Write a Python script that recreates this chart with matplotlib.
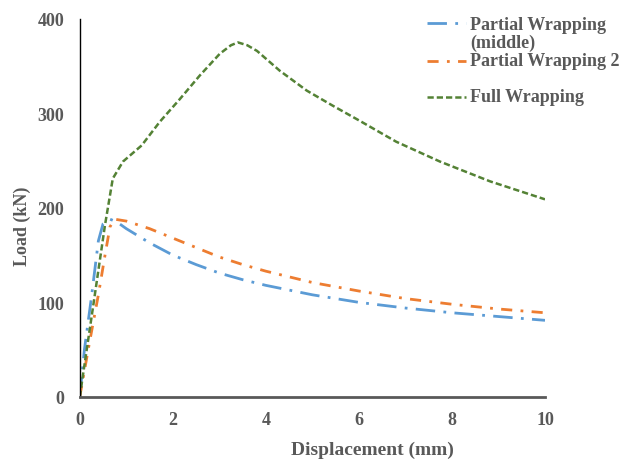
import matplotlib
matplotlib.use("Agg")
import matplotlib.pyplot as plt
from matplotlib.lines import Line2D

# Data
x_blue = [0, 0.1, 0.25, 0.4, 0.5, 0.65, 0.8, 1.0, 1.5, 2, 2.5, 3, 3.5, 4, 5, 6, 7, 8, 9, 10]
y_blue = [0, 50, 105, 165, 183, 188, 185, 178, 163, 150, 140, 131, 124, 118, 108, 100, 94, 89, 85, 81]

x_orange = [0, 0.2, 0.4, 0.55, 0.65, 0.75, 1.0, 1.5, 2, 2.5, 3, 3.5, 4, 5, 6, 7, 8, 9, 10]
y_orange = [0, 55, 108, 152, 180, 188, 186, 178, 168, 158, 148, 140, 133, 121, 112, 104, 98, 93, 89]

x_green = [0, 0.3, 0.54, 0.71, 0.93, 1.33, 1.72, 2.15, 2.58, 3.01, 3.25, 3.4, 3.6, 3.81, 4.3, 4.88, 5.44, 6.02, 6.8, 7.74, 8.82, 10]
y_green = [0, 100, 181, 231, 249, 266, 291, 315, 340, 363, 372, 375, 372, 366, 345, 324, 308, 292, 270, 249, 228, 209]

labels = ["Partial Wrapping\n(middle)", "Partial Wrapping 2", "Full Wrapping"]
x_ticks = [0, 2, 4, 6, 8, 10]
y_ticks = [0, 100, 200, 300, 400]

gray = "#595959"
colors = ["#5B9BD5", "#ED7D31", "#548235"]
dash_styles = [(7, 3, 1, 3), (4, 3, 1, 3), (2.5, 1.2)]
widths = [2.0, 2.0, 1.8]

plt.rcParams['font.family'] = ['Liberation Serif', 'DejaVu Serif']
plt.rcParams['font.weight'] = 'bold'

fig = plt.figure(figsize=(6.33, 4.60), dpi=100)
ax = fig.add_axes([0.126, 0.135, 0.735, 0.822])

series = [(x_blue, y_blue), (x_orange, y_orange), (x_green, y_green)]
for (xs, ys), c, d, w, lab in zip(series, colors, dash_styles, widths, labels):
    ax.plot(xs, ys, color=c, lw=w, dashes=d, label=lab)

ax.set_xlim(0, 10)
ax.set_ylim(0, 400)
ax.set_xticks(x_ticks)
ax.set_yticks(y_ticks)
ax.tick_params(axis='y', length=0, labelsize=13, labelcolor=gray, pad=11)
ax.tick_params(axis='x', length=0, labelsize=13, labelcolor=gray, pad=10)
for lbl in ax.get_xticklabels() + ax.get_yticklabels():
    lbl.set_fontweight('bold')
ax.spines['top'].set_visible(False)
ax.spines['right'].set_visible(False)
ax.spines['left'].set_color('black')
ax.spines['left'].set_linewidth(1.0)
ax.spines['bottom'].set_color(gray)
ax.spines['bottom'].set_linewidth(2.0)

# Axis titles
fig.text(372 / 633, 1 - 450 / 460, "Displacement (mm)", fontsize=14, color=gray,
         fontweight='bold', ha='center', va='center')
fig.text(22 / 633, 1 - 226 / 460, "Load (kN)", fontsize=13, color=gray,
         fontweight='bold', ha='center', va='center', rotation=90)

# Legend (drawn manually to match layout)
handle_y = [24, 62, 98]
text_rows = [(25, "Partial Wrapping"), (43, "(middle)"), (61, "Partial Wrapping 2"), (98, "Full Wrapping")]
for hy, c, d, w in zip(handle_y, colors, dash_styles, widths):
    fig.add_artist(Line2D([427 / 633, 466 / 633], [1 - hy / 460] * 2, color=c, lw=w,
                          dashes=d, transform=fig.transFigure))
for ty, txt in text_rows:
    fig.text(470 / 633, 1 - ty / 460, txt, fontsize=13, color=gray, fontweight='bold',
             ha='left', va='center')

fig.savefig("out.png", dpi=100)
